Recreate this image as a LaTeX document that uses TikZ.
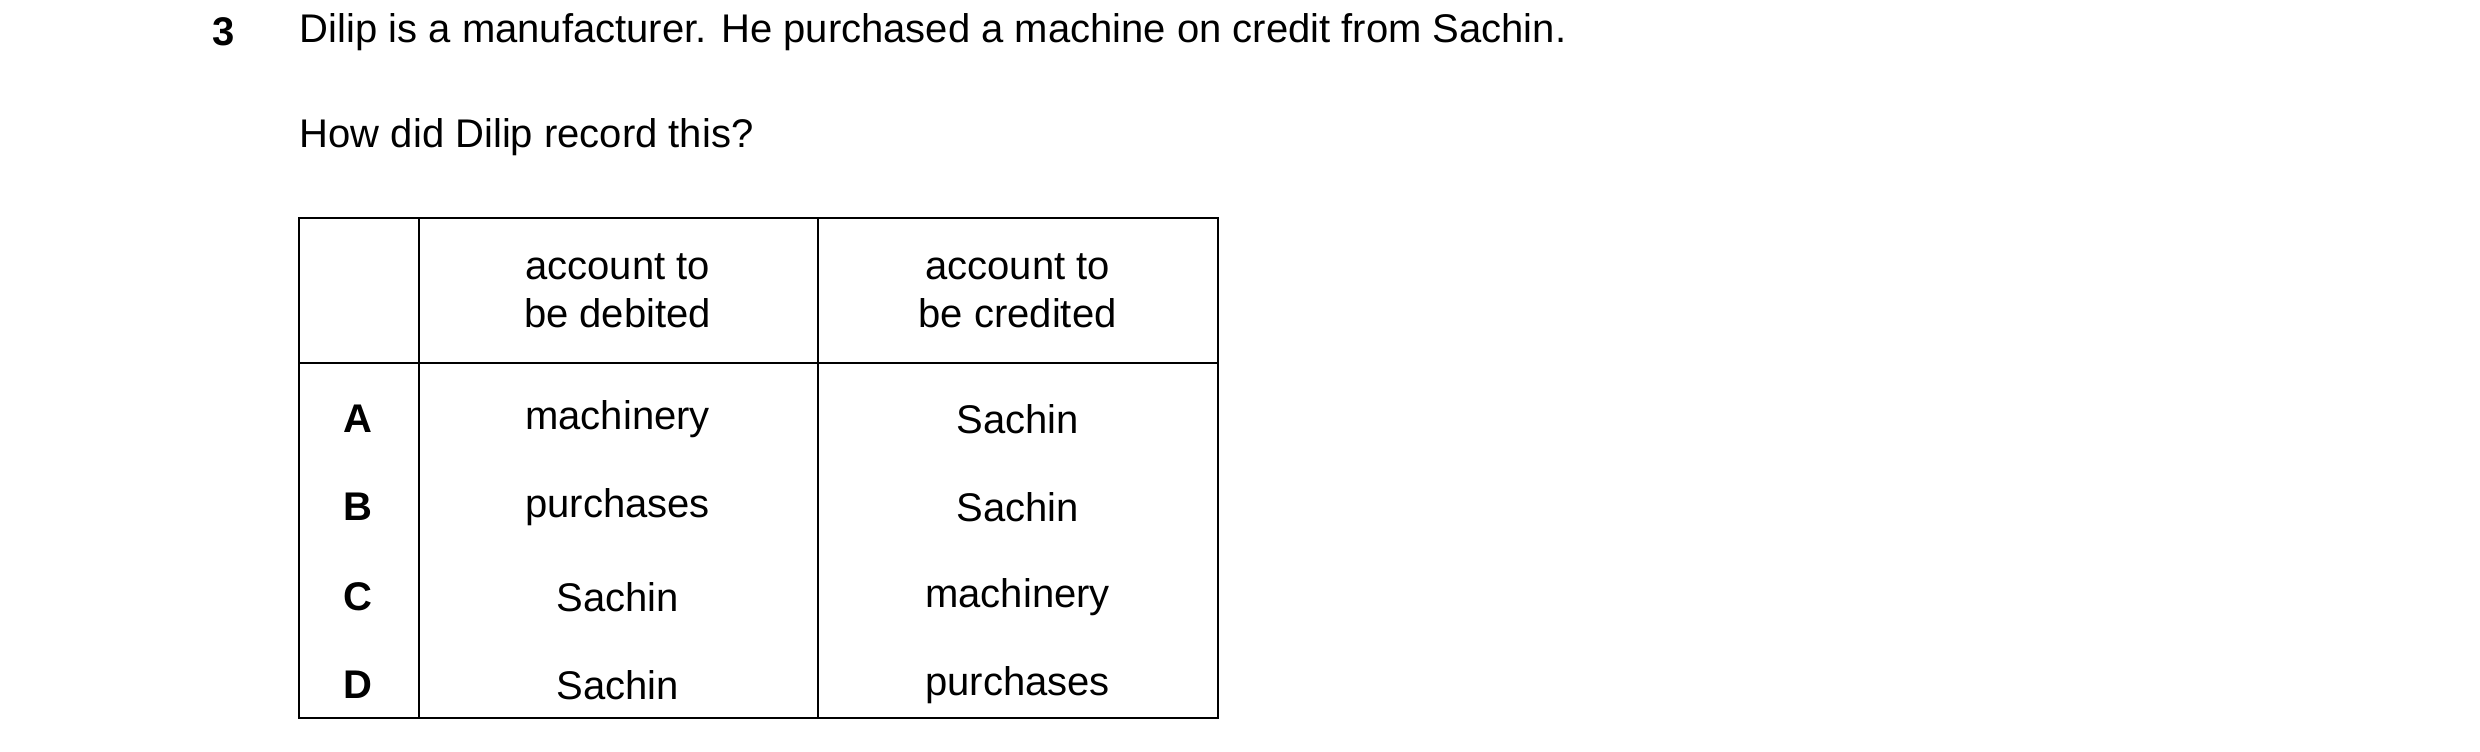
\documentclass[tikz,border=0pt]{standalone}
\usepackage{fontspec}
\setmainfont{Liberation Sans}
\begin{document}
\begin{tikzpicture}[x=0.5pt,y=-0.5pt,
  txt/.style={inner sep=0pt,font=\fontsize{12.5}{15}\selectfont},
  cell/.style={txt,align=center},
  key/.style={txt,font=\fontsize{12.5}{15}\selectfont\bfseries},
  grid/.style={line width=0.6pt}]
\useasboundingbox (0,0) rectangle (1550,469.4);
% question
\node[key] (num) at (140,20) {3};
\node[txt,anchor=west] (stem) at (187,20) {Dilip is a manufacturer. He purchased a machine on credit from Sachin.};
\node[txt,anchor=west] (ask) at (187,86) {How did Dilip record this?};
% table frame
\draw[grid] (187,136) rectangle (761,449);
\draw[grid] (187,227) -- (761,227);
\draw[grid] (262,136) -- (262,449);
\draw[grid] (511,136) -- (511,449);
% header
\node[cell] (hdeb) at (386,182) {account to\\be debited};
\node[cell] (hcred) at (636,182) {account to\\be credited};
% rows
\foreach \k/\d/\c/\y in {A/machinery/Sachin/262, B/purchases/Sachin/317,
  C/Sachin/machinery/373, D/Sachin/purchases/428}{
  \node[key] (key\k) at (224,\y) {\k};
  \node[cell] (deb\k) at (386,\y) {\d};
  \node[cell] (cred\k) at (636,\y) {\c};
}
\end{tikzpicture}
\end{document}
